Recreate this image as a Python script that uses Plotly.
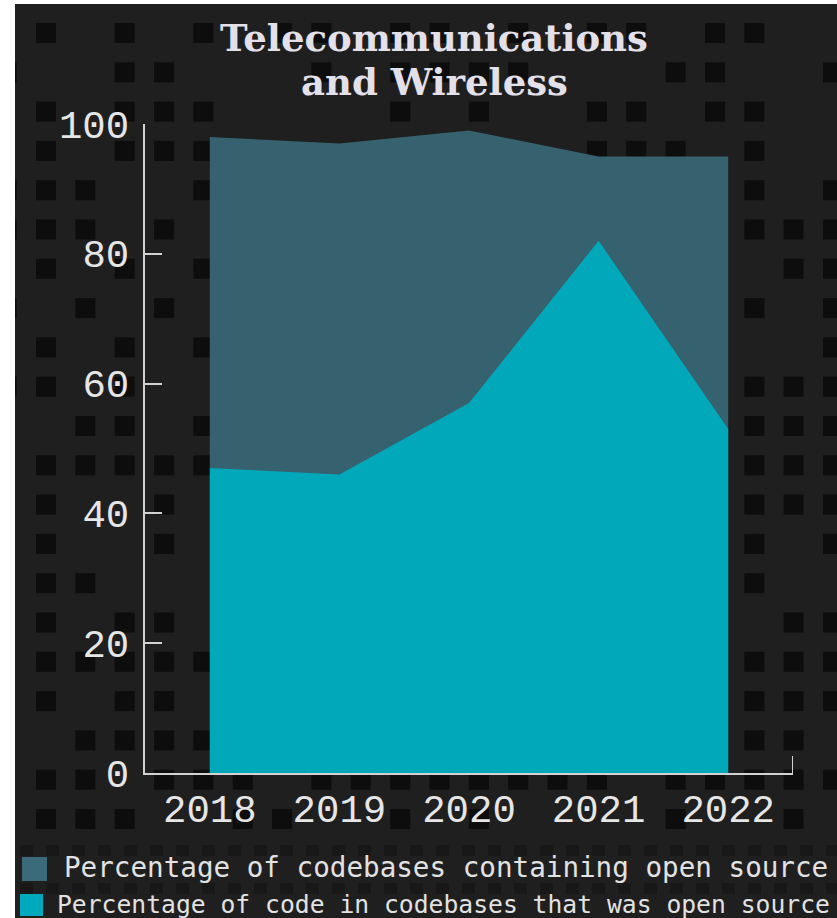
import base64
import plotly.graph_objects as go

# ---------------- data ----------------
years = [2018, 2019, 2020, 2021, 2022]
codebases_with_open_source = [98, 97, 99, 95, 95]
code_that_is_open_source = [47, 46, 57, 82, 53]
series_names = [
    "Percentage of codebases containing open source",
    "Percentage of code in codebases that was open source",
]
y_tick_values = [0, 20, 40, 60, 80, 100]
title_lines = ["Telecommunications", "and Wireless"]

# ---------------- style ----------------
area_colors = ["#36616f", "#00a8ba"]
swatch_colors = ["#3b6a7b", "#00a9bb"]
text_color = "#e6e6e6"
axis_color = "#d2d2d2"
tick_font = "Liberation Mono"

W, H = 837, 918
L, R, T, B = 145, 44, 124, 145
PW, PH = W - L - R, H - T - B


def px(x):
    return (x - L) / PW


def py(y):
    return (H - B - y) / PH


# ---------------- decorative background pattern ----------------
pattern_rows = {
    0: [0, 2, 4, 6, 7, 9, 10, 12, 14, 15, 17, 18],
    1: [-1, 2, 3, 7, 9, 10, 11, 12, 16, 17, 20],
    2: [0, 2, 3, 4, 9, 11, 14, 15, 17, 18],
    3: [0, 2, 3, 4, 14, 15, 16, 18],
    4: [-1, 0, 1, 4, 18, 20],
    5: [-1, 0, 1, 3, 18, 19, 20],
    6: [0, 2, 4, 19, 20],
    7: [-1, 1, 3, 18, 20],
    8: [0, 2, 4, 20],
    9: [-1, 0, 2, 18, 19, 20],
    10: [1, 2, 4, 18, 19, 20],
    11: [0, 1, 2, 3, 4, 18, 19, 20],
    12: [0, 3, 18, 19, 20],
    13: [0, 3, 18, 20],
    14: [0, 1, 18],
    15: [0, 2, 3, 19, 20],
    16: [0, 1, 2, 3, 4, 18, 19, 20],
    17: [0, 2, 3, 18, 19, 20],
    18: [1, 2, 3, 4, 18, 19],
    19: [0, 1, 3, 4, 5, 7, 8, 9, 10, 11, 12, 13, 14, 16, 17, 18, 19, 20],
    20: [0, 1, 2, 5, 6, 9, 11, 16, 19],
}
parts = [f'<svg xmlns="http://www.w3.org/2000/svg" width="{W}" height="{H}" viewBox="0 0 {W} {H}">',
         f'<rect x="0" y="0" width="{W}" height="{H}" fill="#ffffff"/>',
         f'<rect x="15" y="4" width="{W-15}" height="{H-4}" fill="#1f1f1f"/>']
for r, cols in pattern_rows.items():
    for c in cols:
        x = 36 + 39.35 * c
        y = 23 + 39.3 * r
        parts.append(f'<rect x="{x:.1f}" y="{y:.1f}" width="20" height="20" fill="#0d0d0d"/>')
for yy in (845, 883):
    xx = 20
    while xx < W:
        parts.append(f'<rect x="{xx}" y="{yy}" width="13" height="11" fill="#181818"/>')
        xx += 26
parts.append(f'<rect x="0" y="0" width="15" height="{H}" fill="#ffffff"/>')
parts.append(f'<rect x="0" y="0" width="{W}" height="4" fill="#ffffff"/>')
parts.append('</svg>')
bg_uri = "data:image/svg+xml;base64," + base64.b64encode("".join(parts).encode()).decode()

# ---------------- figure ----------------
fig = go.Figure()
for vals, col, name in [(codebases_with_open_source, area_colors[0], series_names[0]),
                        (code_that_is_open_source, area_colors[1], series_names[1])]:
    fig.add_trace(go.Scatter(
        x=years, y=vals, name=name, mode="lines",
        line=dict(width=0, color=col), fill="tozeroy", fillcolor=col,
        showlegend=False, hoverinfo="x+y",
    ))

fig.update_layout(
    width=W, height=H,
    margin=dict(l=L, r=R, t=T, b=B, pad=0),
    paper_bgcolor="#ffffff",
    plot_bgcolor="rgba(0,0,0,0)",
    showlegend=False,
    images=[dict(source=bg_uri, xref="paper", yref="paper",
                 x=px(0), y=py(0), sizex=W / PW, sizey=H / PH,
                 xanchor="left", yanchor="top", sizing="stretch", layer="below")],
    font=dict(family=tick_font, color=text_color),
)

fig.update_xaxes(
    range=[2017.5, 2022.5], tickvals=years, ticktext=[str(y) for y in years],
    showgrid=False, zeroline=False, showline=True, linecolor=axis_color, linewidth=2,
    ticks="", tickfont=dict(family=tick_font, size=39, color=text_color),
    ticklabelstandoff=0,
)
fig.update_yaxes(
    range=[0, 100], tickvals=y_tick_values,
    showgrid=False, zeroline=False, showline=True, linecolor=axis_color, linewidth=2,
    ticks="inside", ticklen=17, tickwidth=2, tickcolor=axis_color,
    tickfont=dict(family=tick_font, size=39, color=text_color),
    ticklabelstandoff=6,
)

# right-end outer tick of the x axis
fig.add_shape(type="line", xref="x", yref="paper", x0=2022.5, x1=2022.5,
              y0=0, y1=17 / PH, line=dict(color=axis_color, width=2))

# title
for line, yc in zip(title_lines, (38, 82)):
    fig.add_annotation(text=line, xref="paper", yref="paper",
                       x=px(434), y=py(yc), xanchor="center", yanchor="middle",
                       showarrow=False,
                       font=dict(family="DejaVu Serif", size=37, weight="bold", color="#e3e0ea"))

# legend (swatches + labels)
legend_rows = [
    dict(sw=(22, 857, 47, 881), tx=62, ty=868, size=27.6),
    dict(sw=(20, 894, 43, 916), tx=55, ty=904, size=24.7),
]
for i, row in enumerate(legend_rows):
    x0, y0, x1, y1 = row["sw"]
    fig.add_shape(type="rect", xref="paper", yref="paper",
                  x0=px(x0), x1=px(x1), y0=py(y1), y1=py(y0),
                  line=dict(width=0), fillcolor=swatch_colors[i])
    fig.add_annotation(text=series_names[i], xref="paper", yref="paper",
                       x=px(row["tx"]), y=py(row["ty"]), xanchor="left", yanchor="middle",
                       showarrow=False,
                       font=dict(family="DejaVu Sans Mono", size=row["size"], color="#e2e2e2"))

fig.write_html("out.html", config={"displayModeBar": False},
               post_script="document.body.style.margin='0px';")
